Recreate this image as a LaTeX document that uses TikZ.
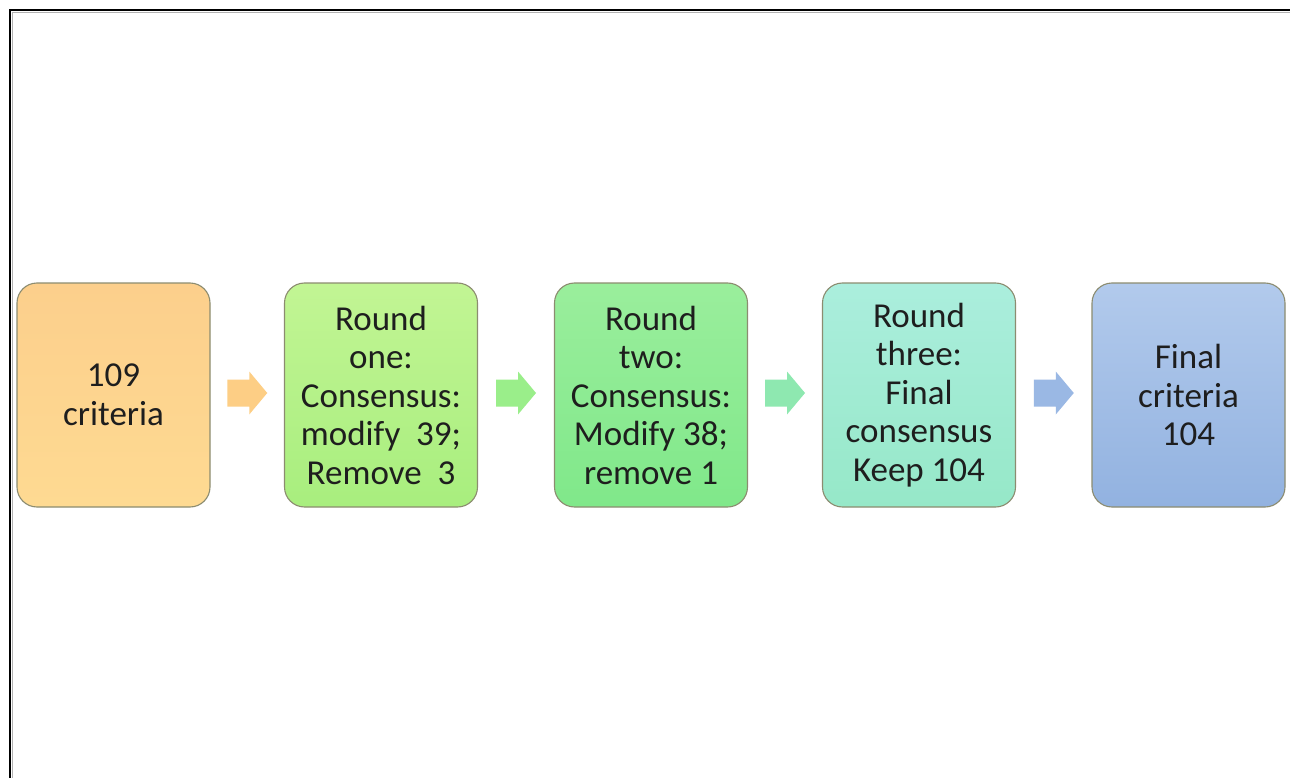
\documentclass[tikz,border=0pt]{standalone}
\usepackage{fontspec}
\setmainfont{Carlito}
\usetikzlibrary{calc}
\definecolor{txt}{HTML}{1E1E1E}
\definecolor{edge}{HTML}{8C8C70}
\definecolor{oT}{HTML}{FCCF8C}\definecolor{oB}{HTML}{FEDA92}
\definecolor{gT}{HTML}{C2F594}\definecolor{gB}{HTML}{A8EE7E}
\definecolor{hT}{HTML}{9AEE9C}\definecolor{hB}{HTML}{80E88A}
\definecolor{mT}{HTML}{ABEEDD}\definecolor{mB}{HTML}{96E8C8}
\definecolor{bT}{HTML}{B2CAEC}\definecolor{bB}{HTML}{92B2E0}
\definecolor{aO}{HTML}{FDCE85}
\definecolor{aG}{HTML}{9AEE8A}
\definecolor{aM}{HTML}{8EE8B0}
\definecolor{aB}{HTML}{9AB8E4}
\tikzset{
  stagebox/.style={draw=edge, line width=1.1pt, rounded corners=20pt,
    minimum width=193pt, minimum height=224pt, inner sep=0pt,
    align=center, text=txt,
    font=\fontsize{35pt}{38.5pt}\selectfont}
}
\newcommand{\blockarr}[2]{%
  \fill[#2, shift={(#1)}] (-20,-13.5) -- (2,-13.5) -- (2,-21.5) -- (20,0) -- (2,21.5) -- (2,13.5) -- (-20,13.5) -- cycle;}
\begin{document}
\begin{tikzpicture}[x=1pt,y=-1pt]
\useasboundingbox (0,0) rectangle (1290,778);
\fill[white] (0,0) rectangle (1290,778);
% frame
\draw[gray!60, line width=1pt] (12.8,778) -- (12.8,12.8) -- (1290,12.8);
\draw[black, line width=2.6pt] (10,778) -- (10,10) -- (1290,10);
% boxes
\node[stagebox, top color=oT, bottom color=oB] (b1) at (113.5,395) {109\\criteria};
\node[stagebox, top color=gT, bottom color=gB] (b2) at (381,395) {Round\\one:\\Consensus:\\modify~~39;\\Remove~~3};
\node[stagebox, top color=hT, bottom color=hB] (b3) at (651,395) {Round\\two:\\Consensus:\\Modify 38;\\remove 1};
\node[stagebox, top color=mT, bottom color=mB] (b4) at (919,395) {Round\\three:\\Final\\consensus\\Keep 104};
\node[stagebox, top color=bT, bottom color=bB] (b5) at (1188.5,395) {Final\\criteria\\104};
% arrows between boxes
\coordinate (m1) at ($(b1.east)!0.5!(b2.west)+(0,-2)$);
\coordinate (m2) at ($(b2.east)!0.5!(b3.west)+(0,-2)$);
\coordinate (m3) at ($(b3.east)!0.5!(b4.west)+(0,-2)$);
\coordinate (m4) at ($(b4.east)!0.5!(b5.west)+(0,-2)$);
\blockarr{m1}{aO}
\blockarr{m2}{aG}
\blockarr{m3}{aM}
\blockarr{m4}{aB}
\end{tikzpicture}
\end{document}
